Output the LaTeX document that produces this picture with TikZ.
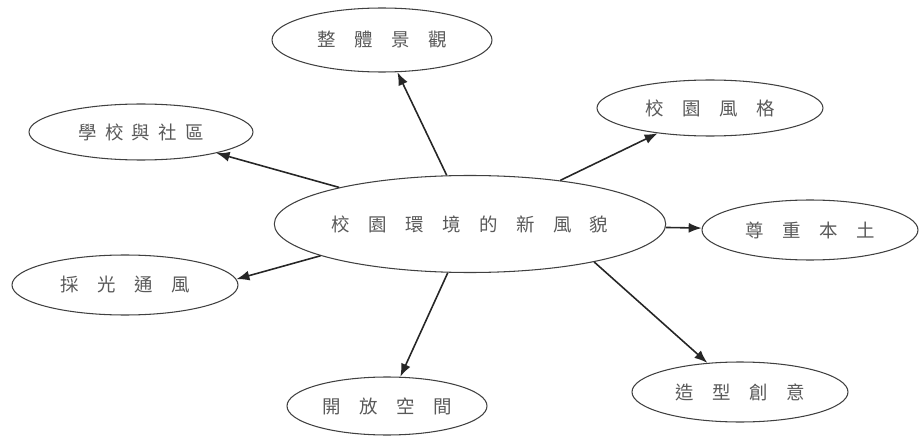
\documentclass[tikz,border=0pt]{standalone}
\usepackage{fontspec}
\newfontfamily\cjk{Noto Sans CJK TC}
\usetikzlibrary{shapes.geometric,arrows.meta}
\newcommand{\wgap}{\hspace{1em}}
\newcommand{\ngap}{\hspace{0.45em}}
\tikzset{
  topic/.style={draw=black!75, line width=0.6pt, ellipse, inner sep=0pt, text=black!65, font=\cjk\fontsize{10.5pt}{12pt}\selectfont},
  link/.style={draw=black!85, line width=0.9pt, -{Latex[length=2.6mm,width=2mm]}}
}
\begin{document}
\begin{tikzpicture}

\useasboundingbox (0,0) rectangle (18.38,-8.72);
\node [topic, minimum width=7.32cm, minimum height=1.94cm] (center) at (9.4,-4.48) {校\wgap 園\wgap 環\wgap 境\wgap 的\wgap 新\wgap 風\wgap 貌};
\node [topic, minimum width=4.4cm, minimum height=1.28cm] (view) at (7.64,-0.8) {整\wgap 體\wgap 景\wgap 觀};
\node [topic, minimum width=4.48cm, minimum height=1.12cm] (comm) at (2.82,-2.64) {學\ngap 校\ngap 與\ngap 社\ngap 區};
\node [topic, minimum width=4.52cm, minimum height=1.12cm] (style) at (14.2,-2.16) {校\wgap 園\wgap 風\wgap 格};
\node [topic, minimum width=4.32cm, minimum height=1.2cm] (local) at (16.2,-4.6) {尊\wgap 重\wgap 本\wgap 土};
\node [topic, minimum width=4.52cm, minimum height=1.2cm] (light) at (2.5,-5.7) {採\wgap 光\wgap 通\wgap 風};
\node [topic, minimum width=4.0cm, minimum height=1.16cm] (open) at (7.74,-8.12) {開\wgap 放\wgap 空\wgap 間};
\node [topic, minimum width=4.32cm, minimum height=1.2cm] (idea) at (14.8,-7.84) {造\wgap 型\wgap 創\wgap 意};
\draw [link] (center) -- (view);
\draw [link] (center) -- (comm);
\draw [link] (center) -- (style);
\draw [link] (center) -- (local);
\draw [link] (center.192) -- (light.3);
\draw [link] (center) -- (open);
\draw [link] (center.-17) -- (idea);
\end{tikzpicture}
\end{document}
